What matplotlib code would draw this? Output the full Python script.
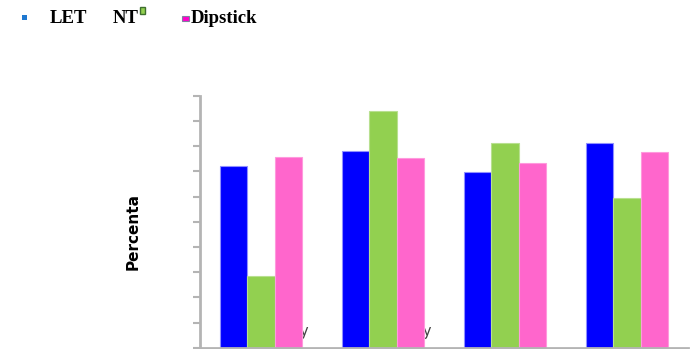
import numpy as np
import matplotlib.pyplot as plt
from matplotlib.patches import Rectangle

categories = ['Sensitivity', 'Specificity', 'PPV', 'NPV']
let_vals = [72.2, 78.0, 69.6, 81.1]
nt_vals = [28.5, 94.0, 81.1, 59.4]
dip_vals = [75.6, 75.3, 73.2, 77.7]

fig = plt.figure(figsize=(6.93, 3.49), dpi=100)
ax = fig.add_axes([200 / 693, 1 - 347.7 / 349, 488 / 693, 252 / 349])

x = np.arange(len(categories))
w = 0.224
ax.bar(x - w, let_vals, w, color='#0000ff', edgecolor='#9090ff', linewidth=0.8, zorder=2)
ax.bar(x, nt_vals, w, color='#92d050', edgecolor='#b8e090', linewidth=0.8, zorder=2)
ax.bar(x + w, dip_vals, w, color='#ff66cc', edgecolor='#ff99dd', linewidth=0.8, zorder=2)

# category labels sit behind the bars, only their tails show
ax.text(0.39, 4.6, categories[0], ha='right', va='baseline', fontsize=10.5,
        color='#404040', zorder=1)
ax.text(1.40, 4.6, categories[1], ha='right', va='baseline', fontsize=10.5,
        color='#404040', zorder=1)

ax.set_xlim(-0.5, 3.5)
ax.set_ylim(0, 100)
ax.set_yticks(np.arange(0, 101, 10))
ax.set_yticklabels([])
ax.set_xticks([0.5, 1.5, 2.5])
ax.set_xticklabels([])
for s in ['top', 'right']:
    ax.spines[s].set_visible(False)
for s in ['left', 'bottom']:
    ax.spines[s].set_color('#b4b4b4')
    ax.spines[s].set_linewidth(2)
ax.tick_params(axis='y', length=5, width=1.5, color='#b4b4b4')
ax.tick_params(axis='x', length=3, width=1.5, color='#b4b4b4')

fig.text(133 / 693, 1 - 231 / 349, 'Percenta', rotation=90, ha='center', va='center',
         fontsize=11, fontweight='bold', family='DejaVu Sans')

# legend row at the top
fig.patches.append(Rectangle((22 / 693, 1 - 20 / 349), 5 / 693, 5 / 349,
                             transform=fig.transFigure, facecolor='#1f78d0',
                             edgecolor='none'))
fig.text(50 / 693, 1 - 18.5 / 349, 'LET', ha='left', va='center', fontsize=13.5,
         fontweight='bold', family='Liberation Serif')
fig.text(113 / 693, 1 - 18.5 / 349, 'NT', ha='left', va='center', fontsize=13.5,
         fontweight='bold', family='Liberation Serif')
fig.patches.append(Rectangle((140 / 693, 1 - 14 / 349), 4.5 / 693, 7 / 349,
                             transform=fig.transFigure, facecolor='#92d050',
                             edgecolor='#3f6f2f', linewidth=1))
fig.patches.append(Rectangle((182 / 693, 1 - 20.5 / 349), 6.5 / 693, 4.5 / 349,
                             transform=fig.transFigure, facecolor='#ff00cc',
                             edgecolor='#8080a0', linewidth=0.8))
fig.text(191 / 693, 1 - 18.5 / 349, 'Dipstick', ha='left', va='center', fontsize=13.5,
         fontweight='bold', family='Liberation Serif')

fig.savefig('out.png', dpi=100)
